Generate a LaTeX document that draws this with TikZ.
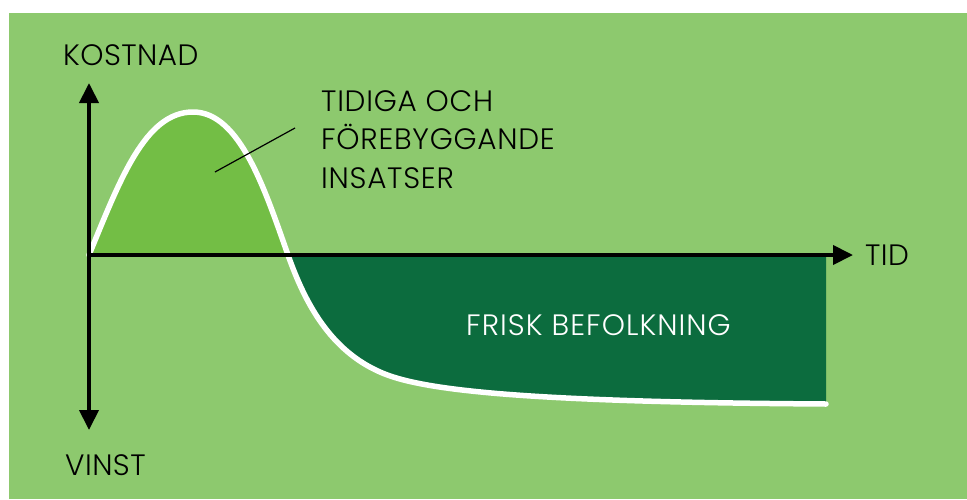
\documentclass[tikz,border=0pt]{standalone}
\usepackage{fontspec}
\setmainfont{Poppins Light}[LetterSpace=1.5]
\usetikzlibrary{arrows.meta}
\definecolor{bggreen}{RGB}{141,201,110}
\definecolor{humpgreen}{RGB}{115,190,69}
\definecolor{darkgreen}{RGB}{12,108,62}
\tikzset{
  axisline/.style={line width=4pt, draw=black, {Triangle[length=20pt,width=19pt]}-{Triangle[length=20pt,width=19pt]}},
  axisarrow/.style={line width=4pt, draw=black, -{Triangle[length=20pt,width=19pt]}},
  curveline/.style={line width=5.5pt, draw=white, line cap=round, line join=round},
  lbl/.style={inner sep=0pt, font=\fontsize{29.5}{38.5}\selectfont, text=black},
  leader/.style={line width=1.2pt, draw=black}
}
\begin{document}
\begin{tikzpicture}[x=1pt,y=-1pt]
\useasboundingbox (0,0) rectangle (967,499);
\fill[white] (0,0) rectangle (967,499);
\fill[bggreen] (9,13) rectangle (967,499);
% coordinates
\coordinate (o) at (89,255);
\coordinate (peak) at (193,112);
\coordinate (cross) at (288,255);
\coordinate (knee) at (380,372);
\coordinate (cend) at (826,404);
\coordinate (ytop) at (89,83);
\coordinate (ybot) at (89,430);
\coordinate (xend) at (853,255);
\coordinate (la) at (215,172);
\coordinate (lb) at (295,128);
% fills
\fill[humpgreen] (o) .. controls (120,180) and (145,112) .. (peak)
  .. controls (240,112) and (265,190) .. (cross) -- cycle;
\fill[darkgreen] (cross) .. controls (305,303) and (330,350) .. (knee)
  .. controls (420,390) and (520,402) .. (cend) -- (826,255) -- cycle;
% white curve
\draw[curveline] (o) .. controls (120,180) and (145,112) .. (peak)
  .. controls (240,112) and (265,190) .. (cross)
  .. controls (305,303) and (330,350) .. (knee)
  .. controls (420,390) and (520,402) .. (cend);
% axes
\draw[axisline] (ybot) -- (ytop);
\draw[axisarrow] (o) -- (xend);
% leader
\draw[leader] (la) -- (lb);
% labels
\node[lbl, anchor=base west] (kostnad) at (63,65) {KOSTNAD};
\node[lbl, anchor=base west] (vinst) at (65,475) {VINST};
\node[lbl, anchor=base west] (tid) at (865,265) {TID};
\node[lbl, anchor=north west, align=left] (tidiga) at (321,90) {\addfontfeatures{LetterSpace=2.5}TIDIGA OCH\\\addfontfeatures{LetterSpace=2.5}FÖREBYGGANDE\\\addfontfeatures{LetterSpace=2.5}INSATSER};
\node[lbl, anchor=base west, text=white] (frisk) at (466,335) {\addfontfeatures{LetterSpace=3.5}FRISK BEFOLKNING};
\end{tikzpicture}
\end{document}
